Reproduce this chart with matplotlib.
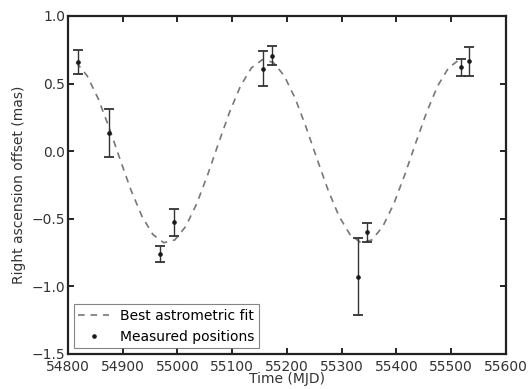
import matplotlib
matplotlib.use('Agg')
import matplotlib.pyplot as plt
from matplotlib.lines import Line2D

# Measured positions (MJD, RA offset in mas, 1-sigma error)
obs_mjd = [54818, 54875, 54968, 54994, 55156, 55173, 55330, 55346, 55517, 55532]
obs_ra = [0.66, 0.135, -0.76, -0.525, 0.61, 0.705, -0.93, -0.60, 0.62, 0.665]
obs_err = [0.09, 0.175, 0.06, 0.10, 0.13, 0.07, 0.285, 0.07, 0.065, 0.107]

# Best astrometric fit
fit_mjd = [54815, 54835, 54855, 54875, 54895, 54915, 54935, 54955, 54975, 54995,
           55015, 55035, 55055, 55075, 55095, 55115, 55135, 55155, 55175, 55195,
           55215, 55235, 55255, 55275, 55295, 55315, 55335, 55355, 55375, 55395,
           55415, 55435, 55455, 55475, 55495, 55515]
fit_ra = [0.657, 0.557, 0.390, 0.176, -0.059, -0.287, -0.481, -0.616, -0.677, -0.657,
          -0.557, -0.390, -0.176, 0.059, 0.287, 0.481, 0.616, 0.677, 0.657, 0.557,
          0.390, 0.176, -0.059, -0.287, -0.481, -0.616, -0.677, -0.657, -0.557, -0.390,
          -0.176, 0.059, 0.287, 0.481, 0.616, 0.677]

xticks = [54800, 54900, 55000, 55100, 55200, 55300, 55400, 55500, 55600]
yticks = [-1.5, -1.0, -0.5, 0.0, 0.5, 1.0]

fig = plt.figure(figsize=(5.29, 3.89), dpi=100)
ax = fig.add_axes([0.1285, 0.090, 0.828, 0.869])

ax.plot(fit_mjd, fit_ra, color='#777777', lw=1.2, dashes=(4, 3.5))
ax.errorbar(obs_mjd, obs_ra, yerr=obs_err, fmt='o', ms=2.3, color='#1a1a1a',
            ecolor='#333333', elinewidth=1, capsize=3.5, capthick=1.3)

ax.set_xlim(54800, 55600)
ax.set_ylim(-1.5, 1.0)
ax.set_xticks(xticks)
ax.set_yticks(yticks)
ax.tick_params(direction='in', top=True, right=True, length=4, width=1.2,
               labelsize=10, labelcolor='#333333')
ax.tick_params(axis='x', pad=4)
ax.tick_params(axis='y', pad=2)
for s in ax.spines.values():
    s.set_linewidth(1.6)
    s.set_color('#222222')

ax.set_xlabel('Time (MJD)', fontsize=10, color='#333333', labelpad=-1)
ax.set_ylabel('Right ascension offset (mas)', fontsize=10, color='#333333', labelpad=4)

# legend shows only the dot for the measurements
handles = [Line2D([], [], color='#777777', lw=1.2, dashes=(4, 3.5)),
           Line2D([], [], ls='none', marker='o', ms=2.3, color='#1a1a1a')]
labels = ['Best astrometric fit', 'Measured positions']
leg = ax.legend(handles, labels, loc='lower left', fontsize=10, fancybox=False,
                numpoints=1, handlelength=2.2, borderpad=0.35, labelspacing=0.45,
                borderaxespad=0.4)
leg.get_frame().set_edgecolor('#666666')
leg.get_frame().set_linewidth(0.8)

fig.savefig('out.png', dpi=100)
